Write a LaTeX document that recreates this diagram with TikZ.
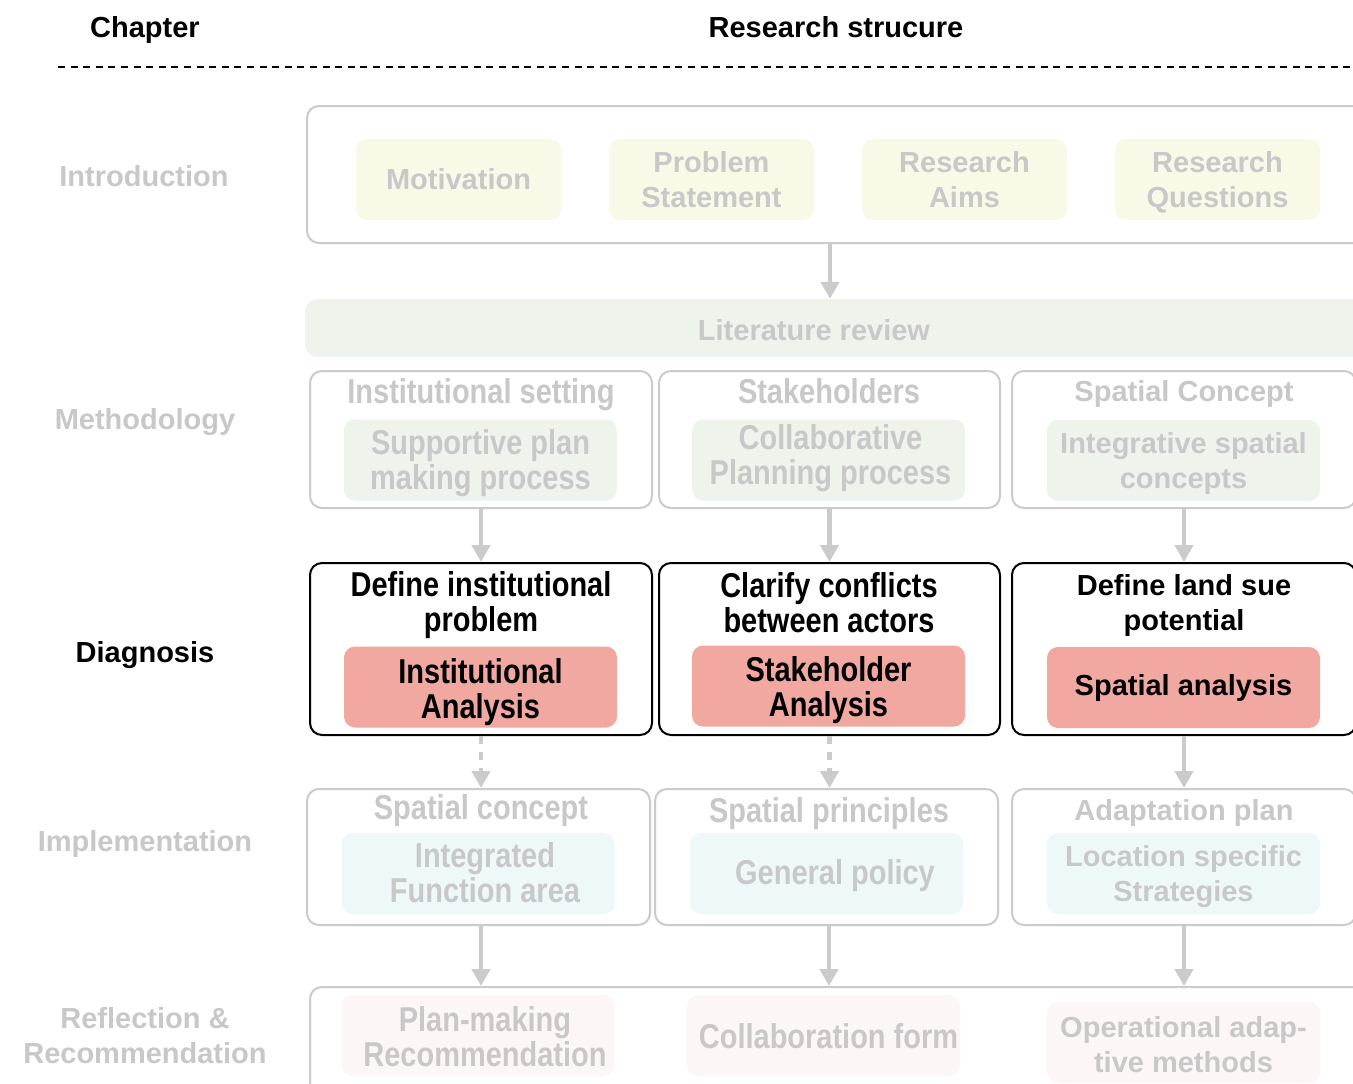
\documentclass[tikz,border=0pt]{standalone}
\usepackage{fontspec}
\setmainfont{Liberation Sans}
\newfontfamily\narrowf[FakeStretch=0.84]{Liberation Sans}
\usetikzlibrary{arrows.meta}
\definecolor{gtext}{HTML}{C8C8C8}
\definecolor{gline}{HTML}{CBCBCB}
\definecolor{fyel}{HTML}{F8F9E7}
\definecolor{fgrn}{HTML}{EEF3EB}
\definecolor{fred}{HTML}{F0A8A0}
\definecolor{fcyn}{HTML}{EFF8F8}
\definecolor{fpnk}{HTML}{FDF6F6}
\tikzset{
  reg/.style={font=\fontsize{29}{35}\selectfont\bfseries, align=center, inner sep=0pt},
  nar/.style={font=\narrowf\fontsize{34.5}{35}\selectfont\bfseries, align=center, inner sep=0pt},
  outerg/.style={draw=gline, line width=2pt, rounded corners=12pt, inner sep=0pt},
  outerk/.style={draw=black, line width=2pt, rounded corners=12pt, inner sep=0pt},
  inbox/.style={rounded corners=11pt, inner sep=0pt, minimum width=273pt, minimum height=81pt},
  arr/.style={draw=gline, line width=4.3pt, -{Triangle[length=17pt,width=18pt]}},
  darr/.style={arr, dash pattern=on 8pt off 8pt},
}
\begin{document}
\begin{tikzpicture}[x=1pt,y=-1pt]
\useasboundingbox (0,0) rectangle (1353,1084);
\clip (0,0) rectangle (1353,1084);
\fill[white] (0,0) rectangle (1353,1084);
% header
\node[reg] (hchap) at (145,30) {Chapter};
\node[reg] (hres) at (836,27) {Research strucure};
\draw[line width=2pt, dash pattern=on 7pt off 5.6pt] (58,67) -- (1360,67);
% left labels
\node[reg, text=gtext] (lintro) at (144,176) {Introduction};
\node[reg, text=gtext] (lmeth) at (145,422) {Methodology};
\node[reg] (ldiag) at (145,655) {Diagnosis};
\node[reg, text=gtext] (limpl) at (145,844) {Implementation};
\node[reg, text=gtext] (lrefl) at (145,1036) {Reflection \&\\Recommendation};
% introduction
\node[outerg, minimum width=1060pt, minimum height=137pt] (intro) at (837,174.5) {};
\node[inbox, fill=fyel, minimum width=205pt, reg, text=gtext] (mot) at (458.5,179.5) {Motivation};
\node[inbox, fill=fyel, minimum width=205pt, reg, text=gtext] (prob) at (711.5,179.5) {Problem\\Statement};
\node[inbox, fill=fyel, minimum width=205pt, reg, text=gtext] (aims) at (964.5,179.5) {Research\\Aims};
\node[inbox, fill=fyel, minimum width=205pt] (rq) at (1217.5,179.5) {};
\node[reg, text=gtext] (rqt) at (1217.5,182.5) {Research\\Questions};
% literature review
\node[fill=fgrn, rounded corners=12pt, minimum width=1062pt, minimum height=58pt, inner sep=0pt] (lit) at (836,328) {};
\node[reg, text=gtext] (littxt) at (814,330) {Literature review};
\coordinate (ax) at (830,0);
\draw[arr] (intro.south -| ax) -- (lit.north -| ax);
% methodology
\node[outerg, minimum width=342pt, minimum height=137pt] (m1) at (481,439.5) {};
\node[outerg, minimum width=341pt, minimum height=137pt] (m2) at (829.5,439.5) {};
\node[outerg, minimum width=344pt, minimum height=137pt] (m3) at (1184,439.5) {};
\node[nar, text=gtext] (m1t) at (481,395) {Institutional setting};
\node[nar, text=gtext] (m2t) at (829,391) {Stakeholders};
\node[reg, text=gtext] (m3t) at (1184,394) {Spatial Concept};
\node[inbox, fill=fgrn] (m1i) at (480.5,460) {};
\node[nar, text=gtext] (m1it) at (480.5,463) {Supportive plan\\making process};
\node[inbox, fill=fgrn] (m2i) at (828.5,460) {};
\node[nar, text=gtext] (m2it) at (830.5,458) {Collaborative\\Planning process};
\node[inbox, fill=fgrn] (m3i) at (1183.5,460.5) {};
\node[reg, text=gtext] (m3it) at (1183.5,463.5) {Integrative spatial\\concepts};
% diagnosis
\node[outerk, minimum width=342pt, minimum height=172pt] (d1) at (481,649) {};
\node[outerk, minimum width=341pt, minimum height=172pt] (d2) at (829.5,649) {};
\node[outerk, minimum width=344pt, minimum height=172pt] (d3) at (1184,649) {};
\node[nar] (d1t) at (481,605.5) {Define institutional\\problem};
\node[nar] (d2t) at (829,602.5) {Clarify conflicts\\between actors};
\node[reg] (d3t) at (1184,605.5) {Define land sue\\potential};
\node[inbox, fill=fred] (d1i) at (480.5,687) {};
\node[nar] (d1it) at (480.5,692) {Institutional\\Analysis};
\node[inbox, fill=fred] (d2i) at (828.5,686) {};
\node[nar] (d2it) at (828.5,690) {Stakeholder\\Analysis};
\node[inbox, fill=fred, reg] (d3i) at (1183.5,687.5) {Spatial analysis};
\draw[arr] (m1.south) -- (m1.south |- d1.north);
\draw[arr] (m2.south) -- (m2.south |- d2.north);
\draw[arr] (m3.south) -- (m3.south |- d3.north);
% implementation
\node[outerg, minimum width=343pt, minimum height=136pt] (i1) at (478.5,857) {};
\node[outerg, minimum width=343pt, minimum height=136pt] (i2) at (826.5,857) {};
\node[outerg, minimum width=344pt, minimum height=136pt] (i3) at (1184,857) {};
\node[nar, text=gtext] (i1t) at (481,811) {Spatial concept};
\node[nar, text=gtext] (i2t) at (829,814) {Spatial principles};
\node[reg, text=gtext] (i3t) at (1184,813) {Adaptation plan};
\node[inbox, fill=fcyn] (i1i) at (478,873.5) {};
\node[nar, text=gtext] (i1it) at (485,872.5) {Integrated\\Function area};
\node[inbox, fill=fcyn] (i2i) at (826.5,873.5) {};
\node[nar, text=gtext] (i2it) at (835,875.5) {General policy};
\node[inbox, fill=fcyn] (i3i) at (1183.5,873.5) {};
\node[reg, text=gtext] (i3it) at (1183.5,876.5) {Location specific\\Strategies};
\draw[darr] (d1.south) -- (d1.south |- i1.north);
\draw[darr] (d2.south) -- (d2.south |- i2.north);
\draw[arr] (d3.south) -- (d3.south |- i3.north);
% reflection
\node[outerg, minimum width=1056pt, minimum height=130pt] (refl) at (838,1052) {};
\node[inbox, fill=fpnk] (r1i) at (478,1035.5) {};
\node[nar, text=gtext] (r1it) at (485,1036.5) {Plan-making\\Recommendation};
\node[inbox, fill=fpnk] (r2i) at (823.5,1035.5) {};
\node[nar, text=gtext] (r2it) at (828.5,1036) {Collaboration form};
\node[inbox, fill=fpnk] (r3i) at (1183.5,1042.5) {};
\node[reg, text=gtext] (r3it) at (1183.5,1044.5) {Operational adap-\\tive methods};
\coordinate (rx1) at (481,0);
\coordinate (rx2) at (829,0);
\coordinate (rx3) at (1184,0);
\draw[arr] (i1.south -| rx1) -- (refl.north -| rx1);
\draw[arr] (i2.south -| rx2) -- (refl.north -| rx2);
\draw[arr] (i3.south -| rx3) -- (refl.north -| rx3);
\end{tikzpicture}
\end{document}
